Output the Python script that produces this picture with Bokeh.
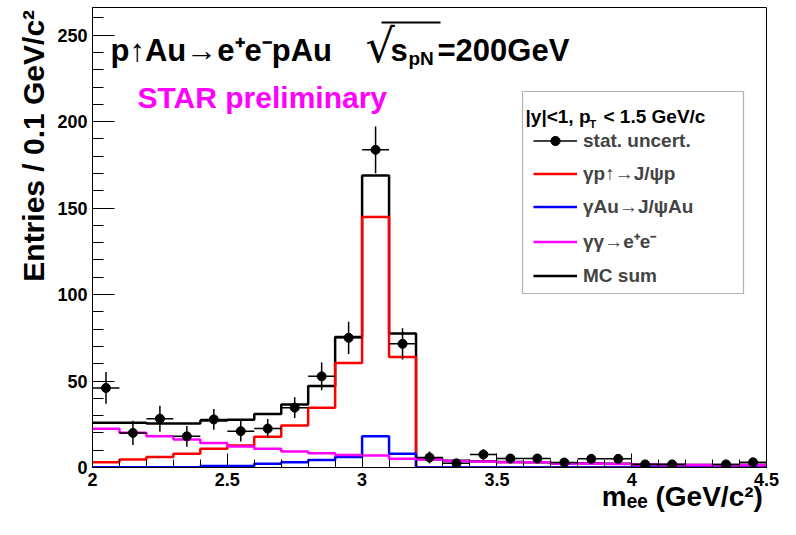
import math
from bokeh.plotting import figure
from bokeh.models import (Range1d, FixedTicker, Label, Legend, LegendItem,
                          BoxAnnotation)
from bokeh.embed import file_html
from bokeh.resources import INLINE

# ---------------- data ----------------
bin_edges = [2.0, 2.1, 2.2, 2.3, 2.4, 2.5, 2.6, 2.7, 2.8, 2.9, 3.0, 3.1, 3.2,
             3.3, 3.4, 3.5, 3.6, 3.7, 3.8, 3.9, 4.0, 4.1, 4.2, 4.3, 4.4, 4.5]

mc_sum = [25.9, 25.9, 25.5, 25.5, 27.2, 27.6, 31.0, 36.5, 47.2, 75.5, 168.8,
          77.5, 4.8, 3.9, 3.6, 3.2, 3.1, 2.2, 2.4, 2.1, 1.7, 1.6, 1.5, 1.4, 1.6]
jpsi_p = [3.1, 4.6, 6.0, 7.9, 10.8, 12.7, 17.8, 24.3, 34.6, 60.4, 144.8, 63.9,
          0, 0, 0, 0, 0, 0, 0, 0, 0, 0, 0, 0, 0]
jpsi_au = [0.2, 0.2, 0.2, 0.2, 0.8, 0.8, 2.1, 3.1, 4.4, 6.0, 18.0, 7.9,
           0, 0, 0, 0, 0, 0, 0, 0, 0, 0, 0, 0, 0]
gg_ee = [22.4, 20.1, 18.0, 16.2, 14.1, 12.2, 10.8, 9.3, 8.3, 7.3, 7.0, 5.0,
         4.6, 3.7, 3.5, 3.1, 3.0, 2.1, 2.3, 2.0, 1.6, 1.5, 1.4, 1.3, 1.5]

pt_m = [2.05, 2.15, 2.25, 2.35, 2.45, 2.55, 2.65, 2.75, 2.85, 2.95, 3.05, 3.15,
        3.25, 3.35, 3.45, 3.55, 3.65, 3.75, 3.85, 3.95, 4.05, 4.15, 4.35, 4.45]
pt_n = [46.0, 20.0, 28.2, 18.0, 27.8, 21.0, 22.5, 34.6, 52.7, 75.0, 183.7, 71.5,
        5.8, 2.4, 7.5, 5.2, 5.2, 2.9, 5.0, 5.0, 1.8, 1.8, 1.8, 3.0]
pt_err = [9.2, 7.0, 7.5, 6.0, 6.0, 6.0, 5.5, 6.0, 8.0, 9.3, 13.5, 9.0,
          3.5, 1.5, 3.0, 2.5, 2.5, 2.0, 2.5, 2.5, 1.5, 1.5, 1.5, 2.0]
bin_half = 0.05

x_ticks = [2, 2.5, 3, 3.5, 4, 4.5]
x_tick_labels = ["2", "2.5", "3", "3.5", "4", "4.5"]
x_minor = [2.1, 2.2, 2.3, 2.4, 2.6, 2.7, 2.8, 2.9, 3.1, 3.2, 3.3, 3.4, 3.6,
           3.7, 3.8, 3.9, 4.1, 4.2, 4.3, 4.4]
y_ticks = [0, 50, 100, 150, 200, 250]
y_minor = [10, 20, 30, 40, 60, 70, 80, 90, 110, 120, 130, 140, 160, 170, 180,
           190, 210, 220, 230, 240, 260]

legend_labels = ["stat. uncert.", "\u03b3p\u2191\u2192J/\u03c8p",
                 "\u03b3Au\u2192J/\u03c8Au", "\u03b3\u03b3\u2192e\u207ae\u207b",
                 "MC sum"]
x_title = "m\u2091\u2091 (GeV/c\u00b2)"
y_title = "Entries / 0.1 GeV/c\u00b2"
NBSP = "\u00a0"

# ---------------- layout ----------------
X_MIN, X_MAX, Y_MIN, Y_MAX = 2.0, 4.5, 0.0, 266.0
W, H = 780, 519
F_L, F_R, F_T, F_B = 92, 766, 7, 467     # frame in canvas pixels


def px2x(px):
    return X_MIN + (px - F_L) / (F_R - F_L) * (X_MAX - X_MIN)


def py2y(py):
    return Y_MIN + (F_B - py) / (F_B - F_T) * (Y_MAX - Y_MIN)


FONT = "Liberation Sans"

p = figure(width=W, height=H, output_backend="svg", toolbar_location=None,
           x_range=Range1d(X_MIN, X_MAX), y_range=Range1d(Y_MIN, Y_MAX),
           min_border_left=F_L, min_border_right=W - F_R,
           min_border_top=F_T, min_border_bottom=H - F_B)
p.grid.visible = False
p.outline_line_color = "black"
p.outline_line_width = 1
p.background_fill_color = "white"
p.border_fill_color = "white"

p.xaxis.ticker = FixedTicker(ticks=x_ticks, minor_ticks=x_minor)
p.xaxis.major_label_overrides = {t: l for t, l in zip(x_ticks, x_tick_labels)}
p.yaxis.ticker = FixedTicker(ticks=y_ticks, minor_ticks=y_minor)
for ax in (p.xaxis, p.yaxis):
    ax.axis_line_color = "black"
    ax.major_tick_line_color = "black"
    ax.minor_tick_line_color = "black"
    ax.major_tick_out = 0
    ax.minor_tick_out = 0
    ax.major_label_text_font = FONT
    ax.major_label_text_font_style = "bold"
    ax.major_label_text_font_size = "18px"
    ax.major_label_text_color = "black"
    ax.axis_label_text_font = FONT
    ax.axis_label_text_font_style = "bold"
    ax.axis_label_text_color = "black"
p.xaxis.major_tick_in = 14
p.xaxis.minor_tick_in = 8
p.xaxis.major_label_standoff = 5
p.yaxis.major_tick_in = 22
p.yaxis.minor_tick_in = 11
p.yaxis.major_label_standoff = 5

xa = p.xaxis[0]
ya = p.yaxis[0]
# axis titles are centred on the frame; leading no-break spaces push the
# visible words towards the frame corner, as in the reference
xa.axis_label = NBSP * 65 + x_title
xa.axis_label_text_font_size = "28px"
xa.axis_label_standoff = -8
ya.axis_label = NBSP * 22 + y_title
ya.axis_label_text_font_size = "30px"
ya.axis_label_standoff = 4

# ---------------- histograms ----------------
def closed(vals):
    return list(vals) + [vals[-1]]

r_sum = p.step(bin_edges, closed(mc_sum), mode="after", line_color="black", line_width=2.5)
r_p = p.step(bin_edges, closed(jpsi_p), mode="after", line_color="#ff0000", line_width=2.5)
r_au = p.step(bin_edges, closed(jpsi_au), mode="after", line_color="#0000ff", line_width=2.5)
r_gg = p.step(bin_edges, closed(gg_ee), mode="after", line_color="#ff00ff", line_width=2.5)

# ---------------- data points ----------------
seg_x0 = [m for m in pt_m] + [m - bin_half for m in pt_m]
seg_x1 = [m for m in pt_m] + [m + bin_half for m in pt_m]
seg_y0 = [n - e for n, e in zip(pt_n, pt_err)] + list(pt_n)
seg_y1 = [n + e for n, e in zip(pt_n, pt_err)] + list(pt_n)
r_err = p.segment(seg_x0, seg_y0, seg_x1, seg_y1, line_color="black", line_width=1.5)
r_pts = p.scatter(pt_m, pt_n, size=9, fill_color="black", line_color="black")

# ---------------- legend ----------------
p.add_layout(BoxAnnotation(left=px2x(522), right=px2x(743), top=py2y(91),
                           bottom=py2y(293), fill_color="white", fill_alpha=1,
                           line_color="black", line_width=1.2))
legend = Legend(items=[
    LegendItem(label=legend_labels[0], renderers=[r_err, r_pts]),
    LegendItem(label=legend_labels[1], renderers=[r_p]),
    LegendItem(label=legend_labels[2], renderers=[r_au]),
    LegendItem(label=legend_labels[3], renderers=[r_gg]),
    LegendItem(label=legend_labels[4], renderers=[r_sum]),
], location=(533 - F_L, F_B - 287), padding=0, margin=0, spacing=10,
    label_height=23, glyph_height=23, glyph_width=44, label_standoff=6,
    label_text_font=FONT, label_text_font_style="bold",
    label_text_font_size="19px", border_line_alpha=0,
    background_fill_alpha=0)
p.add_layout(legend)


def lab(text, px, py, size, color="black", style="bold", font=FONT):
    p.add_layout(Label(x=px2x(px), y=py2y(py), text=text, text_font=font,
                       text_font_size=f"{size}px", text_font_style=style,
                       text_color=color, text_align="left",
                       text_baseline="alphabetic"))


# legend header
lab("|y|<1, p", 525, 116, 19)
lab("T", 589, 123, 11)
lab("< 1.5 GeV/c", 603, 116, 19)

# title
lab("p\u2191Au\u2192e\u207ae\u207bpAu", 110, 50, 31)
lab("\u221a", 365, 45, 46, font="DejaVu Sans", style="normal")
p.add_layout(BoxAnnotation(left=px2x(381), right=px2x(440), top=py2y(21),
                           bottom=py2y(23), fill_color="black", fill_alpha=1,
                           line_alpha=0))
lab("s", 390, 50, 31)
lab("pN", 408, 58, 19)
lab("=200GeV", 437, 50, 31)

lab("STAR preliminary", 137, 97, 30, color="#ff00ff")

open("out.html", "w").write(file_html(p, INLINE))
